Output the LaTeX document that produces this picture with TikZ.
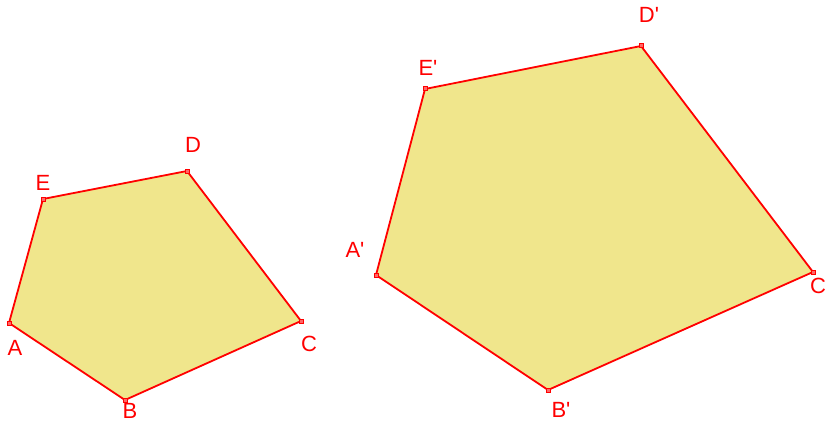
\documentclass[tikz,border=0pt]{standalone}
\usepackage{fontspec}
\setmainfont{Liberation Sans}
\begin{document}
\begin{tikzpicture}[x=1pt,y=-1pt,
  poly/.style={draw=red,line width=1.8pt,fill={rgb,255:red,240;green,230;blue,140},line join=round},
  vtx/.style={draw=red,fill=red!60,line width=1pt,minimum size=4pt,inner sep=0pt,rectangle},
  lab/.style={text=red,font=\fontsize{22}{22}\selectfont,inner sep=0pt}]
\useasboundingbox (0,0) rectangle (826,425);
\clip (0,0) rectangle (826,425);
% small pentagon
\coordinate (A) at (9,323);
\coordinate (B) at (125,400);
\coordinate (C) at (301,321);
\coordinate (D) at (187,171);
\coordinate (E) at (43,199);
\draw[poly] (A) -- (B) -- (C) -- (D) -- (E) -- cycle;
\foreach \p in {A,B,C,D,E} \node[vtx] at (\p) {};
\node[lab] (lA) at (15,348) {A};
\node[lab] (lB) at (130,411) {B};
\node[lab] (lC) at (309,344) {C};
\node[lab] (lD) at (193,145) {D};
\node[lab] (lE) at (43,183) {E};
% large pentagon
\coordinate (A2) at (376,275);
\coordinate (B2) at (548,390);
\coordinate (C2) at (813,272);
\coordinate (D2) at (641,46);
\coordinate (E2) at (425,89);
\draw[poly] (A2) -- (B2) -- (C2) -- (D2) -- (E2) -- cycle;
\foreach \p in {A2,B2,C2,D2,E2} \node[vtx] at (\p) {};
\node[lab] (lA2) at (355,250) {A\textquotesingle};
\node[lab] (lB2) at (561,410) {B\textquotesingle};
\node[lab,anchor=west] (lC2) at (810,286) {C\textquotesingle};
\node[lab] (lD2) at (649,15) {D\textquotesingle};
\node[lab] (lE2) at (428,68) {E\textquotesingle};
\end{tikzpicture}
\end{document}
